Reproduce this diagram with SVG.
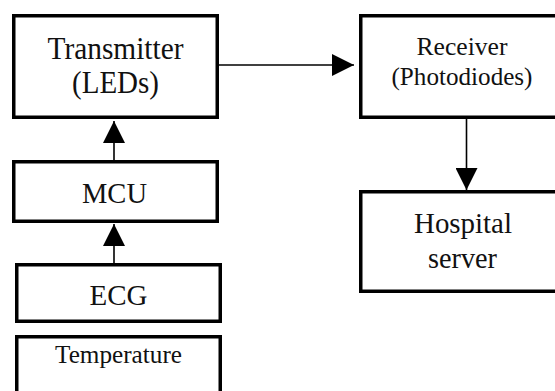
<svg xmlns="http://www.w3.org/2000/svg" width="555" height="391" viewBox="0 0 555 391">
<defs>
<style>
.box{fill:#fff;stroke:#000;stroke-width:3.5}
.t{font-family:"Liberation Serif","Times New Roman",serif;fill:#111;text-anchor:middle}
.c{stroke:#000;stroke-width:1.6;fill:none;marker-end:url(#ah)}
</style>
<marker id="ah" markerUnits="userSpaceOnUse" markerWidth="22" markerHeight="22" refX="22" refY="11" orient="auto">
<path d="M0,0 L22,11 L0,22 Z" fill="#000"/>
</marker>
</defs>
<rect width="555" height="391" fill="#fff"/>
<g id="connectors">
<line class="c" x1="219" y1="65" x2="354" y2="65"/>
<line class="c" x1="466.5" y1="119" x2="466.5" y2="190"/>
<line class="c" x1="114" y1="160" x2="114" y2="121"/>
<line class="c" x1="114" y1="263" x2="114" y2="224"/>
</g>
<g id="transmitter">
<rect class="box" x="13.75" y="15.75" width="203.5" height="101.5"/>
<text class="t" x="115.5" y="59" font-size="30.5" textLength="136" lengthAdjust="spacingAndGlyphs">Transmitter</text>
<text class="t" x="115.5" y="93" font-size="30.5" textLength="87" lengthAdjust="spacingAndGlyphs">(LEDs)</text>
</g>
<g id="receiver">
<rect class="box" x="360.75" y="15.75" width="220" height="101.5"/>
<text class="t" x="462" y="54.5" font-size="25" textLength="91" lengthAdjust="spacingAndGlyphs">Receiver</text>
<text class="t" x="462" y="84.5" font-size="25" textLength="141" lengthAdjust="spacingAndGlyphs">(Photodiodes)</text>
</g>
<g id="hospital">
<rect class="box" x="360.75" y="191.75" width="220" height="99.5"/>
<text class="t" x="463" y="233" font-size="29" textLength="98" lengthAdjust="spacingAndGlyphs">Hospital</text>
<text class="t" x="462.5" y="268" font-size="29" textLength="69" lengthAdjust="spacingAndGlyphs">server</text>
</g>
<g id="mcu">
<rect class="box" x="13.75" y="161.75" width="203.5" height="59.5"/>
<text class="t" x="114.5" y="203" font-size="28.5" textLength="65" lengthAdjust="spacingAndGlyphs">MCU</text>
</g>
<g id="ecg">
<rect class="box" x="16.75" y="264.75" width="203.5" height="56.5"/>
<text class="t" x="118.5" y="305" font-size="29" textLength="58" lengthAdjust="spacingAndGlyphs">ECG</text>
</g>
<g id="temperature">
<rect class="box" x="16.75" y="336.75" width="203.5" height="80"/>
<text class="t" x="118.5" y="363" font-size="26" textLength="127" lengthAdjust="spacingAndGlyphs">Temperature</text>
</g>
</svg>
